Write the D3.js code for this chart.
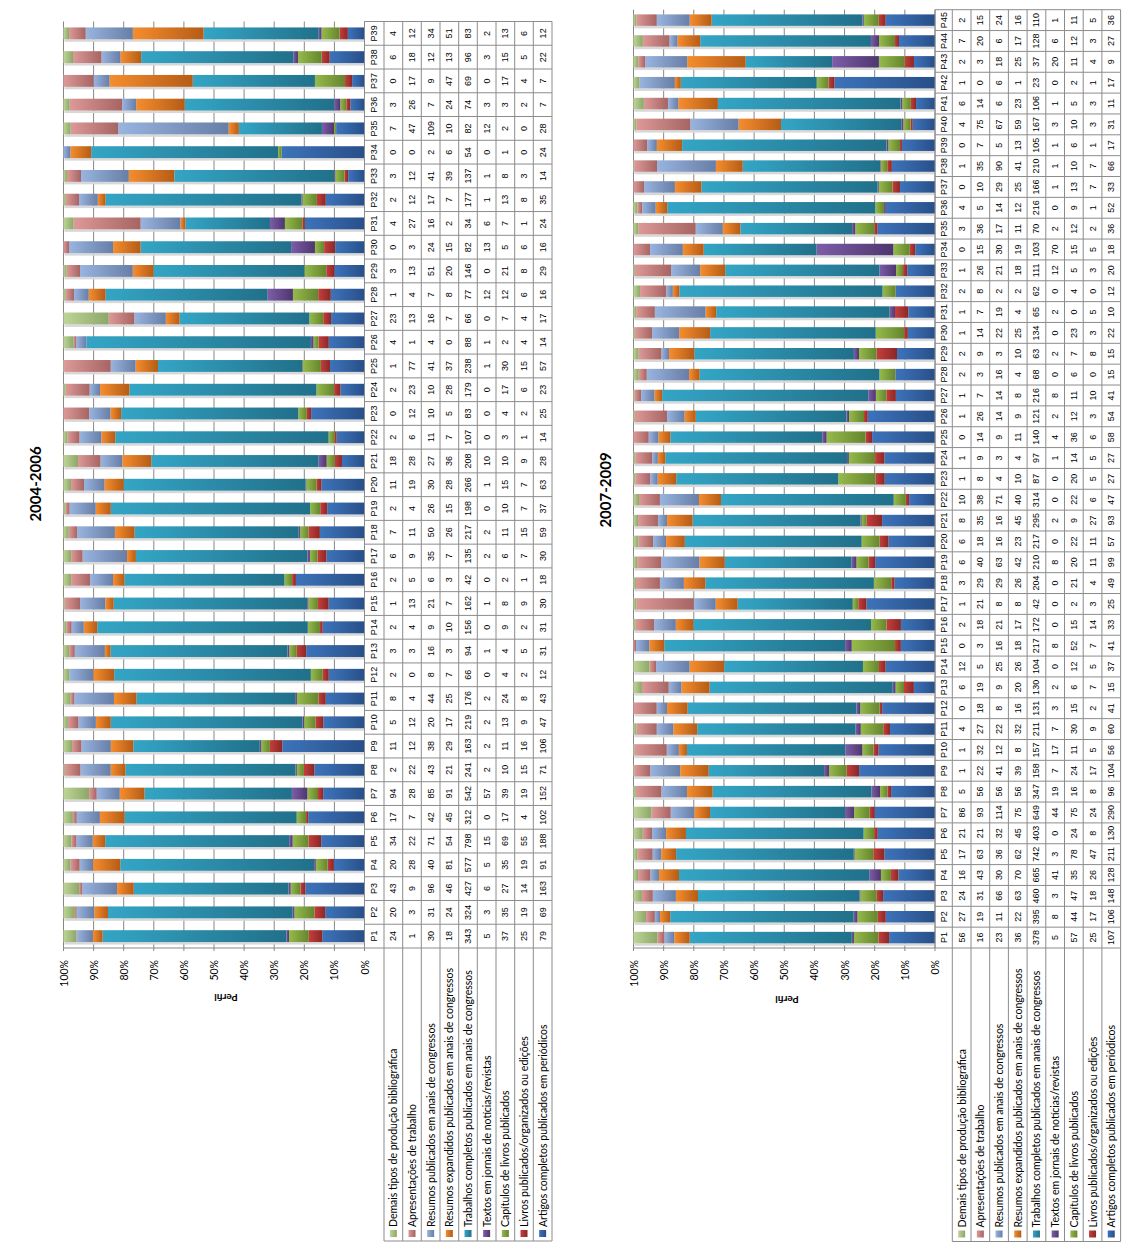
<!DOCTYPE html>
<html><head><meta charset="utf-8">
<script src="https://cdn.jsdelivr.net/npm/d3@7"></script>
<style>body{margin:0;background:#fff} svg{display:block}</style>
</head><body>
<svg id="chart" width="1140" height="1248"></svg>
<script>
// ---------- DATA ----------
const seriesNames = [
  "Demais tipos de produção bibliográfica",
  "Apresentações de trabalho",
  "Resumos publicados em anais de congressos",
  "Resumos expandidos publicados em anais de congressos",
  "Trabalhos completos publicados em anais de congressos",
  "Textos em jornais de notícias/revistas",
  "Capítulos de livros publicados",
  "Livros publicados/organizados ou edições",
  "Artigos completos publicados em periódicos"
];
const seriesColors = [
  ["#BDD698","#8DA769"], ["#DC9997","#A66463"], ["#98B4DF","#687EA6"],
  ["#F58D2E","#B55C16"], ["#34A5C5","#21708A"], ["#7D5DA8","#4E366E"],
  ["#95BA4B","#66852E"], ["#C63E3D","#892826"], ["#3D73BA","#284F88"]
];
const pctTicks = [0,0.1,0.2,0.3,0.4,0.5,0.6,0.7,0.8,0.9,1];
const pctLabels = ["0%","10%","20%","30%","40%","50%","60%","70%","80%","90%","100%"];

const cats0406 = d3.range(1,40).map(i => "P" + i);
const demais0406 = [24,20,43,20,34,17,94,2,11,5,8,2,3,2,1,2,6,7,2,11,18,2,0,2,1,4,23,1,3,0,4,2,3,0,7,3,0,6,4];
const apres0406 = [1,3,9,28,22,7,28,22,12,12,4,0,3,4,13,5,9,11,4,19,28,6,12,23,77,1,13,4,13,3,27,12,12,0,47,26,17,18,12];
const resumos0406 = [30,31,96,40,71,42,85,43,38,20,44,8,16,9,21,6,35,50,26,30,27,11,10,10,41,4,16,7,51,24,16,17,41,2,109,7,9,12,34];
const resexp0406 = [18,24,46,81,54,45,91,21,29,17,25,7,3,10,7,3,7,26,15,28,36,7,5,28,37,0,7,8,20,15,2,7,39,6,10,24,47,13,51];
const trab0406 = [343,324,427,577,798,312,542,241,163,219,176,66,94,156,162,42,135,217,198,266,208,107,83,179,238,88,66,77,146,82,34,177,137,54,82,74,69,96,83];
const textos0406 = [5,3,6,5,15,0,57,2,2,2,2,0,1,0,1,0,2,2,0,1,10,0,0,0,1,1,0,12,0,13,6,1,1,0,12,3,0,3,2];
const cap0406 = [37,35,27,35,69,17,39,10,11,13,24,4,4,9,8,2,6,11,10,15,10,3,4,17,30,2,7,12,21,5,7,13,8,1,2,3,17,15,13];
const livros0406 = [25,19,14,19,55,4,19,15,16,9,8,2,5,2,9,1,7,15,7,7,9,1,2,6,15,4,4,6,8,6,1,8,3,0,0,2,4,5,6];
const artigos0406 = [79,69,163,91,188,102,152,71,106,47,43,12,31,31,30,18,30,59,37,63,28,14,25,23,57,14,17,16,29,16,24,35,14,24,28,7,7,22,12];

const cats0709 = d3.range(1,46).map(i => "P" + i);
const demais0709 = [56,27,24,16,17,21,86,5,1,1,4,0,6,12,0,2,1,3,6,6,8,10,1,1,0,1,1,2,2,1,1,2,1,0,3,4,0,1,0,4,6,1,2,7,2];
const apres0709 = [16,19,31,43,63,21,93,56,22,32,27,18,19,5,3,18,21,29,40,18,35,38,8,9,14,26,7,3,9,14,7,8,26,15,36,5,10,35,7,75,14,0,3,20,15];
const resumos0709 = [23,11,66,30,36,32,114,56,41,12,22,8,9,25,16,21,8,29,63,16,16,71,4,3,9,14,14,16,3,22,19,2,21,30,17,14,29,90,5,67,6,6,18,6,24];
const resexp0709 = [36,22,63,70,62,45,75,56,39,8,32,16,20,26,18,17,8,26,42,23,45,40,10,4,11,9,8,4,10,25,4,2,18,19,11,12,25,41,13,59,23,1,25,17,16];
const trab0709 = [378,395,460,665,742,403,649,347,158,157,211,131,130,104,217,172,42,204,210,217,295,314,87,97,140,121,216,68,63,134,65,62,111,103,70,216,166,210,105,167,106,23,37,128,110];
const textos0709 = [5,8,3,41,3,0,44,19,7,17,7,3,2,0,8,0,0,0,8,0,2,0,0,1,4,2,8,0,2,0,2,0,12,70,2,0,1,1,1,3,1,0,20,6,1];
const cap0709 = [57,44,47,35,78,24,75,16,24,11,30,15,6,12,52,15,2,21,20,22,9,22,20,14,36,12,11,6,7,23,0,4,5,15,12,9,13,10,6,10,5,2,11,12,11];
const livros0709 = [25,17,18,26,47,8,24,8,17,5,9,2,7,5,7,14,3,4,11,11,27,6,5,5,6,3,10,0,8,3,5,0,3,5,2,1,7,7,1,3,3,1,4,3,5];
const artigos0709 = [107,106,148,128,211,130,290,96,104,56,60,41,15,37,41,33,25,49,99,57,93,47,27,27,58,54,41,15,15,22,10,12,20,18,36,52,33,66,17,31,11,17,9,27,36];

// ---------- DRAW ----------
const svg = d3.select("#chart");
const defs = svg.append("defs");
seriesColors.forEach((c, i) => {
  const g = defs.append("linearGradient").attr("id", "grad" + i)
    .attr("x1", 0).attr("y1", 0).attr("x2", 1).attr("y2", 0);
  g.append("stop").attr("offset", 0).attr("stop-color", c[0]);
  g.append("stop").attr("offset", 1).attr("stop-color", c[1]);
});

const LATO = "Lato, 'Open Sans', sans-serif";
const ARIAL = "'Liberation Sans', Arial, sans-serif";

function draw(cfg) {
  const root = svg.append("g");
  const { cats, values, top, bottom, x100, x0, cols, legendBottom, pad } = cfg;
  const y = d3.scaleBand().domain(cats.slice().reverse()).range([top, bottom])
    .paddingInner(pad).paddingOuter(pad / 2);
  const x = d3.scaleLinear().domain([0, 1]).range([x0, x100]);
  const step = y.step(), bw = y.bandwidth();
  const cellTop = c => y(c) - step * pad / 2;

  // gridlines
  root.append("g").selectAll("line").data(pctTicks).join("line")
    .attr("x1", d => x(d)).attr("x2", d => x(d))
    .attr("y1", top).attr("y2", bottom + 3)
    .attr("stroke", "#878787").attr("stroke-width", 1);
  // axis line
  root.append("line").attr("x1", x100).attr("x2", x0).attr("y1", bottom).attr("y2", bottom)
    .attr("stroke", "#878787");

  // data rows
  const rows = cats.map((c, i) => {
    const o = { cat: c };
    values.forEach((s, k) => o["s" + k] = s[i]);
    return o;
  });
  const keys = d3.range(values.length).reverse().map(k => "s" + k);
  const stacked = d3.stack().keys(keys).offset(d3.stackOffsetExpand)(rows);

  // shadows
  root.append("g").selectAll("rect").data(rows).join("rect")
    .attr("x", x100 + 1).attr("width", x0 - x100 - 1)
    .attr("y", d => y(d.cat) + bw).attr("height", 2.5)
    .attr("fill", "#d8d8d8");

  root.append("g").selectAll("g").data(stacked).join("g")
    .attr("fill", d => "url(#grad" + d.key.slice(1) + ")")
    .selectAll("rect").data(d => d).join("rect")
    .attr("x", d => x(d[1])).attr("width", d => Math.max(0, x(d[0]) - x(d[1])))
    .attr("y", d => y(d.data.cat)).attr("height", bw);

  // percent labels
  root.append("g").selectAll("text").data(pctTicks).join("text")
    .attr("transform", (d) => `translate(${x(d)},${bottom + 12}) rotate(-90)`)
    .attr("text-anchor", "end").attr("dominant-baseline", "central")
    .attr("font-family", LATO).attr("font-size", 10.5).attr("fill", "#000")
    .text((d, i) => pctLabels[i]);

  // data table grid
  const tg = root.append("g").attr("stroke", "#8c8c8c").attr("stroke-width", 1);
  const hLines = cats.map(cellTop).concat([bottom]);
  tg.selectAll("line.h").data(hLines).join("line").attr("class", "h")
    .attr("x1", cols[0]).attr("x2", cols[cols.length - 1]).attr("y1", d => d).attr("y2", d => d);
  tg.selectAll("line.v").data(cols).join("line").attr("class", "v")
    .attr("x1", d => d).attr("x2", d => d).attr("y1", top).attr("y2", bottom);
  // legend grid
  tg.selectAll("line.lv").data(cols.slice(1)).join("line").attr("class", "lv")
    .attr("x1", d => d).attr("x2", d => d).attr("y1", bottom).attr("y2", legendBottom);
  tg.append("line").attr("x1", cols[1]).attr("x2", cols[cols.length - 1])
    .attr("y1", legendBottom).attr("y2", legendBottom);

  // table texts
  const tt = root.append("g").attr("font-family", ARIAL).attr("font-size", 9).attr("fill", "#000")
    .attr("text-anchor", "middle").attr("dominant-baseline", "central");
  const colC = k => (cols[k] + cols[k + 1]) / 2;
  cats.forEach((c, i) => {
    const cy = cellTop(c) + step / 2;
    tt.append("text").attr("transform", `translate(${colC(0)},${cy}) rotate(-90)`).text(c);
    values.forEach((s, k) => {
      tt.append("text").attr("transform", `translate(${colC(k + 1)},${cy}) rotate(-90)`).text(s[i]);
    });
  });

  // legend
  const lg = root.append("g");
  seriesNames.forEach((n, k) => {
    const cx = colC(k + 1);
    lg.append("rect").attr("x", cx - 3.5).attr("y", legendBottom - 11).attr("width", 7).attr("height", 7)
      .attr("fill", "url(#grad" + k + ")");
    lg.append("text").attr("transform", `translate(${cx},${legendBottom - 14}) rotate(-90)`)
      .attr("text-anchor", "start").attr("dominant-baseline", "central")
      .attr("font-family", LATO).attr("font-size", 10.5).attr("fill", "#000").text(n);
  });

  // title
  root.append("text").attr("transform", `translate(${cfg.titleX},${cfg.titleY}) rotate(-90)`)
    .attr("text-anchor", "middle").attr("dominant-baseline", "central")
    .attr("font-family", LATO).attr("font-weight", "bold").attr("font-size", 15).text(cfg.title);
  // axis title
  root.append("text").attr("transform", `translate(${cfg.perfilX},${cfg.perfilY}) rotate(180)`)
    .attr("text-anchor", "middle").attr("dominant-baseline", "central")
    .attr("font-family", LATO).attr("font-weight", "bold").attr("font-size", 10).text("Perfil");
}

draw({
  cats: cats0406,
  values: [demais0406, apres0406, resumos0406, resexp0406, trab0406, textos0406, cap0406, livros0406, artigos0406],
  top: 21.5, bottom: 948, x100: 63.5, x0: 364.5, pad: 0.5,
  cols: [364.5, 384, 402.7, 421.3, 440, 458.7, 477.3, 496, 514.7, 533.3, 552],
  legendBottom: 1241, title: "2004-2006", titleX: 35, titleY: 484, perfilX: 226, perfilY: 998
});
draw({
  cats: cats0709,
  values: [demais0709, apres0709, resumos0709, resexp0709, trab0709, textos0709, cap0709, livros0709, artigos0709],
  top: 9.7, bottom: 948, x100: 633.5, x0: 935, pad: 0.45,
  cols: [935, 952.3, 971, 989.7, 1008.4, 1027.1, 1045.8, 1064.5, 1083.2, 1101.9, 1120.6],
  legendBottom: 1241.5, title: "2007-2009", titleX: 605, titleY: 490, perfilX: 787, perfilY: 1000
});
</script>
</body></html>
